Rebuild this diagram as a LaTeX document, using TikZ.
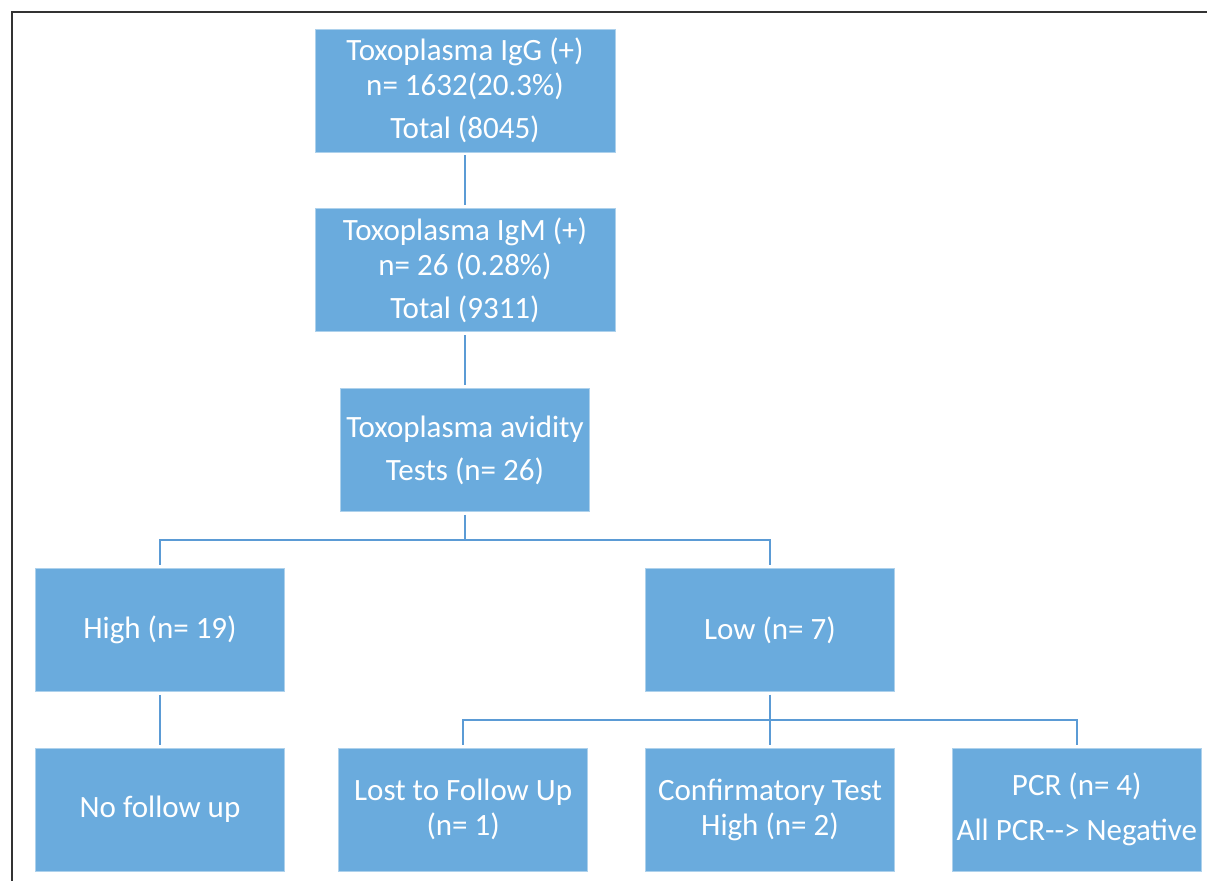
\documentclass[tikz,border=0pt]{standalone}
\usepackage{fontspec}
\setmainfont{Carlito}
\usepackage{xcolor}
\usepackage{tikz}
\usetikzlibrary{positioning}
\definecolor{boxBlue}{HTML}{6AABDD}
\definecolor{linkBlue}{HTML}{5B9BD5}

\begin{document}
\begin{tikzpicture}[node distance=28pt and 28.5pt,
    box/.style={draw=boxBlue!55!white, line width=0.4pt, fill=boxBlue, text=white,
      align=center, minimum width=124.5pt, minimum height=61.5pt, inner sep=0pt,
      font=\fontsize{15.5}{17.5}\selectfont},
    wide/.style={box, minimum width=150pt},
    link/.style={draw=linkBlue, line width=1pt, shorten <=1.5pt, shorten >=1.5pt}]
    \useasboundingbox (0,0) rectangle (603.5pt,-440.5pt);
    \draw[black!80, line width=0.6pt] (6pt,-440.5pt) -- (6pt,-6pt) -- (603.5pt,-6pt);
    \node[wide] (igg) at (232.5pt,-45.25pt) {Toxoplasma IgG (+)\\ n= 1632(20.3\%)\\[4pt] Total (8045)};
    \node[wide, below=of igg] (igm) {Toxoplasma IgM (+)\\ n= 26 (0.28\%)\\[4pt] Total (9311)};
    \node[box, below=of igm] (avid) {Toxoplasma avidity\\[4pt] Tests (n= 26)};
    \node[box, below=of avid, xshift=-152.5pt] (high) {High (n= 19)};
    \node[box, below=of avid, xshift=152.5pt] (low) {Low (n= 7)};
    \node[box, below=of high] (nofollow) {No follow up};
    \node[box, below=of low] (conf) {Confirmatory Test\\ High (n= 2)};
    \node[box, left=of conf] (lost) {Lost to Follow Up\\ (n= 1)};
    \node[box, right=of conf] (pcr) {PCR (n= 4)\\[5pt] All PCR-{}-> Negative};
    \draw[link](igg)--(igm);\draw[link](igm)--(avid);
    \draw[link](avid.south)--++(0,-14pt)-|(high.north);
    \draw[link](avid.south)--++(0,-14pt)-|(low.north);
    \draw[link](high)--(nofollow);\draw[link](low)--(conf);
    \draw[link](low.south)--++(0,-14.25pt)-|(lost.north);
    \draw[link](low.south)--++(0,-14.25pt)-|(pcr.north);
  \end{tikzpicture}
\end{document}
